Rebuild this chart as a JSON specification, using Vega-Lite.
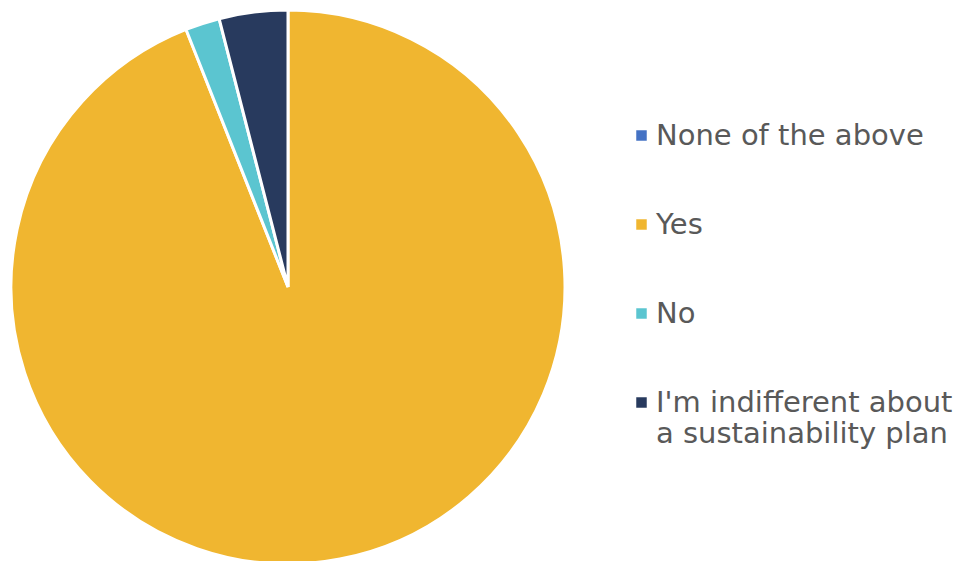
{
  "$schema": "https://vega.github.io/schema/vega-lite/v6.json",
  "width": 576,
  "height": 574,
  "padding": 0,
  "background": "white",
  "data": {
    "values": [
      {"answer": "None of the above", "share": 0, "ord": 1},
      {"answer": "Yes", "share": 94, "ord": 2},
      {"answer": "No", "share": 2, "ord": 3},
      {"answer": "I'm indifferent about a sustainability plan", "share": 4, "ord": 4}
    ]
  },
  "mark": {"type": "arc", "outerRadius": 277, "stroke": "white", "strokeWidth": 3},
  "encoding": {
    "theta": {"field": "share", "type": "quantitative", "stack": true},
    "order": {"field": "ord", "type": "quantitative"},
    "color": {
      "field": "answer",
      "type": "nominal",
      "sort": ["None of the above", "Yes", "No", "I'm indifferent about a sustainability plan"],
      "scale": {
        "domain": ["None of the above", "Yes", "No", "I'm indifferent about a sustainability plan"],
        "range": ["#4472C4", "#F0B630", "#5BC5D0", "#283A5E"]
      },
      "legend": {
        "title": null,
        "orient": "none",
        "legendX": 627,
        "legendY": 121,
        "symbolType": "square",
        "symbolSize": 110,
        "symbolStrokeWidth": 0,
        "labelFont": "DejaVu Sans",
        "labelFontSize": 29,
        "labelColor": "#595959",
        "labelOffset": 0,
        "labelLimit": 400,
        "rowPadding": 59,
        "labelExpr": "datum.label == \"I'm indifferent about a sustainability plan\" ? [\"I'm indifferent about\", \"a sustainability plan\"] : datum.label",
        "encode": {"labels": {"update": {"lineHeight": {"value": 42}}}}
      }
    }
  },
  "config": {"view": {"stroke": null}}
}
